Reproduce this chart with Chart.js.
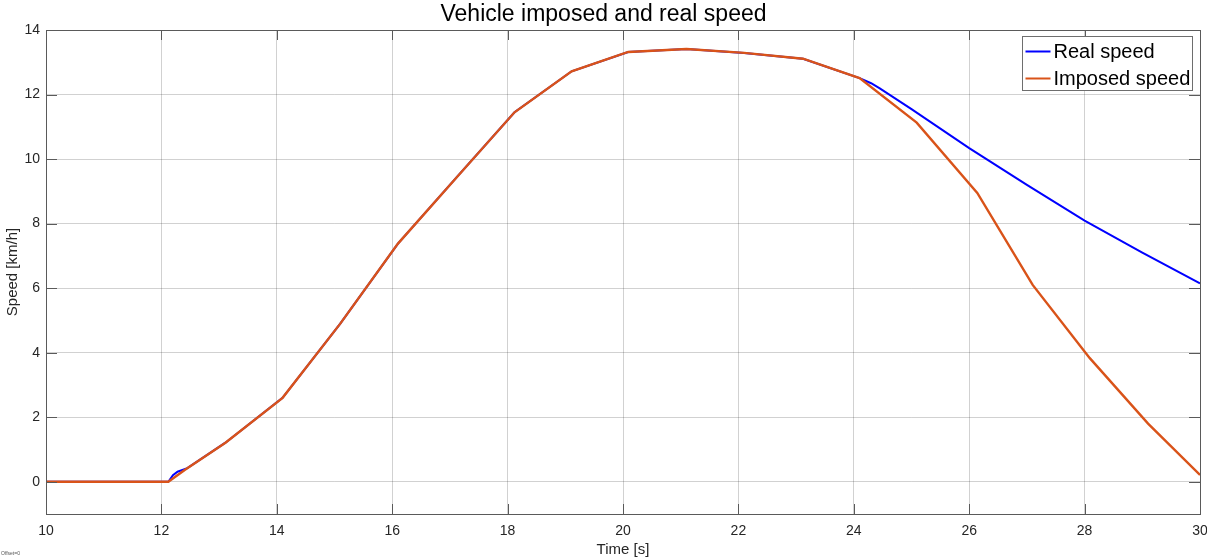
<!DOCTYPE html>
<html>
<head>
<meta charset="utf-8">
<script src="https://cdn.jsdelivr.net/npm/chart.js@4/dist/chart.umd.min.js"></script>
<style>
  body { margin: 0; background: #fff; }
  canvas { display: block; }
</style>
</head>
<body>
<canvas id="myChart" width="1207" height="557"></canvas>
<script>
// values
const timeImposed = [10, 12.12, 12.41, 13.11, 14.1, 15.1, 16.1, 17.1, 18.12, 19.11, 20.09, 21.1, 22.1, 23.12, 24.1, 25.09, 26.14, 27.1, 28.09, 29.1, 30];
const speedImposed = [0, 0, 0.37, 1.21, 2.6, 4.9, 7.38, 9.4, 11.45, 12.72, 13.32, 13.41, 13.29, 13.11, 12.51, 11.13, 8.95, 6.1, 3.83, 1.8, 0.21];

const timeReal = [10, 12.12, 12.2, 12.28, 12.45, 13.11, 14.1, 15.1, 16.1, 17.1, 18.12, 19.11, 20.09, 21.1, 22.1, 23.12, 24.1, 24.3, 24.45, 25, 26, 27, 28, 29, 30];
const speedReal = [0, 0, 0.2, 0.31, 0.42, 1.21, 2.6, 4.9, 7.38, 9.4, 11.45, 12.72, 13.32, 13.41, 13.29, 13.11, 12.51, 12.35, 12.19, 11.55, 10.34, 9.2, 8.09, 7.1, 6.15];

const xTicks = [10, 12, 14, 16, 18, 20, 22, 24, 26, 28, 30];
const yTicks = [0, 2, 4, 6, 8, 10, 12, 14];

const toPoints = (xs, ys) => xs.map((x, i) => ({ x: x, y: ys[i] }));

const FONT = "'Liberation Sans', Arial, Helvetica, sans-serif";

// box, inward ticks, legend and the small note
const matlabLook = {
  id: 'matlabLook',
  afterDatasetsDraw(chart) {
    const { ctx, chartArea: a, scales } = chart;
    ctx.save();
    ctx.strokeStyle = '#5a5a5a';
    ctx.lineWidth = 1;
    ctx.beginPath();
    xTicks.forEach(v => {
      const px = Math.round(scales.x.getPixelForValue(v)) + 0.5;
      ctx.moveTo(px, a.bottom); ctx.lineTo(px, a.bottom - 10);
      ctx.moveTo(px, a.top); ctx.lineTo(px, a.top + 10);
    });
    yTicks.forEach(v => {
      const py = Math.round(scales.y.getPixelForValue(v)) + 0.5;
      ctx.moveTo(a.left, py); ctx.lineTo(a.left + 11, py);
      ctx.moveTo(a.right, py); ctx.lineTo(a.right - 11, py);
    });
    ctx.stroke();
    ctx.strokeRect(Math.round(a.left) + 0.5, Math.round(a.top) + 0.5,
      Math.round(a.right - a.left), Math.round(a.bottom - a.top));

    // legend
    const bx = Math.round(a.right) - 177.5, by = Math.round(a.top) + 6.5;
    const bw = 170, bh = 54;
    ctx.fillStyle = '#fff';
    ctx.fillRect(bx, by, bw, bh);
    ctx.strokeStyle = '#6e6e6e';
    ctx.strokeRect(bx, by, bw, bh);
    ctx.font = '20px ' + FONT;
    ctx.textBaseline = 'middle';
    chart.data.datasets.forEach((ds, i) => {
      const cy = by + 15 + i * 27;
      ctx.strokeStyle = ds.borderColor;
      ctx.lineWidth = 2;
      ctx.beginPath();
      ctx.moveTo(bx + 3, cy); ctx.lineTo(bx + 28, cy);
      ctx.stroke();
      ctx.fillStyle = '#000';
      ctx.fillText(ds.label, bx + 31, cy + 1);
    });

    ctx.font = '5px ' + FONT;
    ctx.fillStyle = '#555';
    ctx.textBaseline = 'alphabetic';
    ctx.fillText('Offset=0', 1, 555);
    ctx.restore();
  }
};

const ctx = document.getElementById('myChart');
new Chart(ctx, {
  type: 'line',
  data: {
    datasets: [{
      label: 'Real speed',
      data: toPoints(timeReal, speedReal),
      borderColor: '#0000ff',
      borderWidth: 2,
      pointRadius: 0,
      tension: 0,
      order: 2
    }, {
      label: 'Imposed speed',
      data: toPoints(timeImposed, speedImposed),
      borderColor: '#d95319',
      borderWidth: 2.4,
      pointRadius: 0,
      tension: 0,
      order: 1
    }]
  },
  options: {
    responsive: false,
    animation: false,
    events: [],
    layout: { padding: 0 },
    plugins: {
      legend: { display: false },
      tooltip: { enabled: false },
      title: {
        display: true,
        text: 'Vehicle imposed and real speed',
        color: '#000',
        font: { family: FONT, size: 23, weight: 'normal', lineHeight: 1 },
        padding: { top: 3, bottom: 4 }
      }
    },
    scales: {
      x: {
        type: 'linear',
        min: 10,
        max: 30,
        afterBuildTicks: s => { s.ticks = xTicks.map(v => ({ value: v })); },
        afterFit: s => { s.height = 43; s.paddingRight = 7; s.paddingLeft = 0; },
        grid: { color: 'rgba(0,0,0,0.18)', drawTicks: false },
        border: { display: false },
        ticks: { color: '#262626', padding: 9, font: { family: FONT, size: 14 }, maxRotation: 0 },
        title: {
          display: true,
          text: 'Time [s]',
          color: '#262626',
          font: { family: FONT, size: 15, lineHeight: 1 },
          padding: { top: 0, bottom: 0 }
        }
      },
      y: {
        min: -1,
        max: 14,
        afterBuildTicks: s => { s.ticks = yTicks.map(v => ({ value: v })); },
        afterFit: s => { s.width = 46; s.paddingTop = 0; s.paddingBottom = 0; },
        grid: { color: 'rgba(0,0,0,0.18)', drawTicks: false },
        border: { display: false },
        ticks: { color: '#262626', padding: 6, font: { family: FONT, size: 14 } },
        title: {
          display: true,
          text: 'Speed [km/h]',
          color: '#262626',
          font: { family: FONT, size: 15 },
          padding: { top: 4, bottom: 0 }
        }
      }
    }
  },
  plugins: [matlabLook]
});
</script>
</body>
</html>
